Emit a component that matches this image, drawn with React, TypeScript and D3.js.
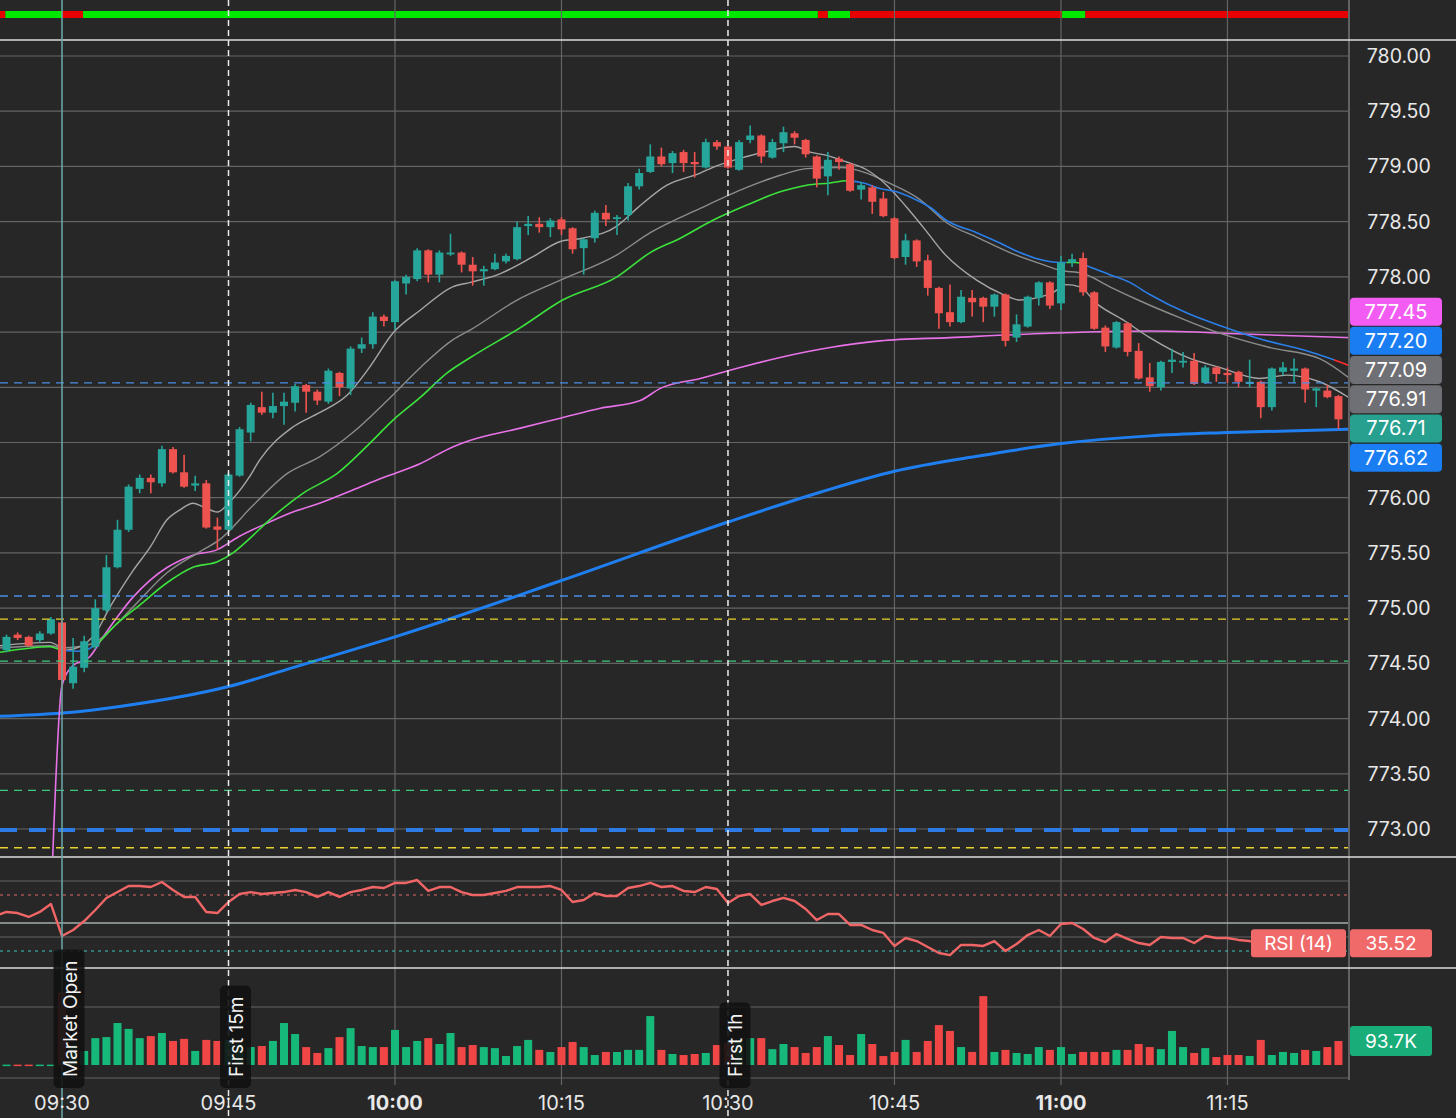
import React from "react";
import * as d3 from "d3";

// ---------- DATA ----------
const FIRST_CANDLE = "09:25";
const opens = [774.62,774.76,774.74,774.71,774.77,774.87,774.32,774.46,774.65,774.98,775.37,775.71,776.08,776.18,776.13,776.44,776.23,776.11,776.13,775.74,775.71,776.20,776.59,776.82,776.77,776.83,776.86,777.02,776.96,776.87,777.13,776.99,777.35,777.39,777.64,777.59,777.94,777.98,778.24,778.02,778.21,778.22,778.11,778.05,778.07,778.14,778.16,778.46,778.48,778.45,778.52,778.44,778.26,778.35,778.58,778.53,778.56,778.82,778.95,779.09,779.03,779.13,779.04,778.99,779.22,779.18,778.97,779.24,779.28,779.08,779.21,779.30,779.24,779.09,778.91,779.07,779.02,778.79,778.81,778.71,778.53,778.18,778.33,778.15,777.90,777.68,777.59,777.81,777.81,777.73,777.84,777.45,777.55,777.81,777.95,777.76,778.13,778.17,777.86,777.54,777.36,777.58,777.33,777.09,777.00,777.23,777.23,777.24,777.04,777.18,777.13,777.14,777.03,777.05,776.82,777.14,777.15,777.17,776.97,776.97,776.92];
const highs = [774.76,774.78,774.75,774.79,774.92,774.89,774.73,774.75,775.08,775.48,775.80,776.12,776.21,776.21,776.47,776.46,776.39,776.20,776.16,775.82,776.23,776.64,776.86,776.96,776.95,776.95,777.03,777.03,776.98,777.17,777.14,777.37,777.45,777.68,777.66,777.97,778.02,778.26,778.25,778.24,778.39,778.23,778.18,778.10,778.21,778.21,778.50,778.55,778.54,778.53,778.54,778.45,778.35,778.60,778.65,778.56,778.85,778.98,779.20,779.17,779.14,779.15,779.13,779.25,779.24,779.19,779.24,779.37,779.29,779.25,779.36,779.32,779.25,779.10,779.13,779.09,779.03,778.86,778.83,778.77,778.54,778.39,778.34,778.20,777.91,777.93,777.88,777.88,777.82,777.85,777.85,777.66,777.83,777.96,777.96,778.19,778.21,778.22,777.87,777.56,777.60,777.59,777.40,777.22,777.24,777.35,777.32,777.31,777.20,777.19,777.18,777.15,777.25,777.06,777.18,777.23,777.26,777.18,777.00,777.02,776.93];
const lows = [774.60,774.71,774.65,774.69,774.76,774.26,774.27,774.42,774.63,774.96,775.36,775.69,776.04,776.04,776.10,776.22,776.09,776.06,775.72,775.53,775.70,776.19,776.51,776.75,776.72,776.66,776.78,776.77,776.84,776.85,776.92,776.93,777.31,777.35,777.55,777.52,777.84,777.96,777.95,777.95,778.19,778.04,777.92,777.92,778.06,778.12,778.15,778.38,778.40,778.36,778.38,778.21,778.02,778.31,778.46,778.38,778.51,778.79,778.94,779.00,778.94,778.95,778.90,778.98,779.15,778.98,778.96,779.21,779.03,779.07,779.13,779.20,779.08,778.81,778.74,778.97,778.77,778.70,778.57,778.54,778.16,778.11,778.09,777.83,777.53,777.55,777.58,777.64,777.59,777.64,777.37,777.41,777.54,777.74,777.71,777.70,778.09,777.83,777.52,777.32,777.35,777.28,777.07,776.96,776.97,777.13,777.18,777.02,777.03,777.05,777.04,777.00,777.00,776.72,776.79,777.11,777.04,776.86,776.82,776.90,776.62];
const closes = [774.74,774.73,774.66,774.77,774.90,774.35,774.47,774.70,775.00,775.37,775.71,776.10,776.18,776.14,776.44,776.23,776.10,776.13,775.73,775.71,776.21,776.62,776.84,776.77,776.83,776.87,777.01,776.96,776.88,777.15,777.00,777.35,777.39,777.64,777.60,777.96,778.00,778.24,778.02,778.22,778.22,778.11,778.05,778.07,778.13,778.19,778.45,778.48,778.45,778.51,778.43,778.25,778.34,778.58,778.52,778.54,778.82,778.94,779.09,779.02,779.12,779.03,779.02,779.22,779.18,778.99,779.22,779.28,779.09,779.22,779.31,779.26,779.11,778.89,779.06,779.04,778.78,778.83,778.68,778.55,778.17,778.33,778.14,777.90,777.67,777.59,777.82,777.77,777.73,777.84,777.42,777.57,777.82,777.95,777.74,778.13,778.16,777.86,777.53,777.37,777.59,777.32,777.08,777.01,777.23,777.25,777.24,777.03,777.18,777.12,777.11,777.05,777.05,776.82,777.17,777.18,777.17,776.98,776.99,776.91,776.71];
const volumesK = [1.5,1.5,1.5,1.5,1.5,285,78,55,105,109,164,141,105,113,125,94,102,55,98,94,98,82,70,74,94,164,121,70,47,66,109,144,74,70,70,137,70,94,105,82,125,70,78,70,66,35,74,98,59,51,70,90,70,39,51,51,59,59,191,59,43,39,43,47,78,86,98,105,105,62,82,70,47,70,113,78,39,121,82,35,51,98,51,94,156,133,70,51,269,51,59,47,43,70,59,70,43,51,51,51,59,59,82,70,62,133,70,47,66,31,39,39,35,98,39,51,47,59,55,70,93.7];

const RSI_FIRST = "09:24";
const rsiValues = [55,57.9,57.1,54.3,57.9,63.6,40.7,45,51.4,59.3,67.9,72.1,76.4,76.4,75.7,79.3,73.6,68.6,68.6,57.9,57.1,65,70.7,72.1,70.7,71.4,72.1,73.6,72.1,68.6,72.1,68.6,72.1,73.6,75.7,75,78.6,78.6,80.7,72.9,75.7,75.7,72.1,70,70,71.4,72.9,75.7,75.7,75.7,76.4,73.6,65,66.4,71.4,69.3,69.3,75,76.4,78.6,75.7,76.4,72.9,72.1,75.7,74.3,64.3,69.3,70.7,62.9,65.7,67.9,65.7,60,52.1,56.4,56.4,48.6,48.6,45,42.9,33.6,39.3,37.1,32.9,28.6,27.1,34.3,34.3,33.6,37.1,30,35,41.4,45,40.7,49.3,50,45.7,39.3,36.4,42.1,38.6,35.7,34.3,40,39.3,39.3,35.7,40.7,39.3,39.3,37.9,37.1,35,39.3,40,40,37,38,37,35.5];

const timeTicks = ["09:30","09:45","10:00","10:15","10:30","10:45","11:00","11:15"];
const boldTicks = ["10:00","11:00"];
const priceTicks = [780,779.5,779,778.5,778,777.5,777,776.5,776,775.5,775,774.5,774,773.5,773];

// indicator lines: [minutes from 09:30, price]
const sma200: [number, number][] = [[-5.59,774.02],[0,774.05],[5.2,774.11],[15,774.29],[21.4,774.48],[30,774.74],[45,775.25],[60,775.78],[68.3,776.05],[75,776.24],[82.7,776.38],[90,776.49],[98,776.56],[105,776.59],[115.9,776.62]];
const vwap: [number, number][] = [[-1,772.3],[0,774.30],[1,774.48],[2.5,774.56],[3.7,774.74],[5.2,774.95],[6.4,775.10],[7.9,775.25],[9.5,775.37],[11.8,775.48],[14,775.53],[15.8,775.64],[18.7,775.78],[20.8,775.87],[23.2,775.95],[26.2,776.07],[28.9,776.18],[32.3,776.31],[35.2,776.46],[36.8,776.52],[41.3,776.63],[44.9,776.72],[48.5,776.81],[52.1,776.88],[53.9,776.99],[57.5,777.08],[61.1,777.18],[64.7,777.27],[69.2,777.36],[73.7,777.42],[80,777.45],[89,777.49],[98,777.51],[107,777.48],[115.9,777.45]];
const ema21: [number, number][] = [[-5.59,774.60],[-1.08,774.65],[0,774.62],[1.44,774.61],[2.79,774.65],[4.95,774.86],[7.03,775.03],[9.46,775.23],[11.8,775.37],[14,775.42],[15.4,775.50],[16.9,775.63],[18.7,775.80],[21.7,776.04],[24.8,776.22],[27.7,776.49],[29.8,776.70],[32.3,776.91],[34.7,777.13],[36.8,777.27],[41.3,777.54],[45.1,777.79],[50,778.00],[53,778.22],[55.7,778.35],[58.6,778.51],[61.7,778.65],[64.7,778.77],[67.1,778.83],[69.2,778.85],[70.7,778.87],[72.2,778.85],[73.7,778.80],[75.2,778.77],[76.7,778.71],[78.2,778.63],[79.7,778.51],[82.4,778.40],[84.2,778.32],[86.3,778.22],[88.4,778.15],[89.9,778.13],[91.4,778.13],[92.6,778.09],[94.4,778.02],[96.2,777.95],[98,777.84],[101.4,777.67],[104.3,777.56],[108.2,777.43],[111.8,777.34],[114,777.27],[115.9,777.20]];
const ema21Trend: [number, number, string][] = [[-6,0.3,"up"],[0.3,2.8,"flat"],[2.8,71,"up"],[71,90.5,"flat"],[90.5,92,"up"],[92,114.6,"flat"],[114.6,117,"down"]];
const emaFast: [number, number][] = [[-5.59,774.66],[-1.08,774.69],[0.45,774.62],[2.79,774.74],[4.32,775.01],[6.4,775.34],[7.93,775.55],[9.46,775.80],[10.63,775.89],[11.8,775.95],[12.7,775.92],[14,775.87],[15.1,775.96],[16.9,776.19],[17.8,776.34],[20.8,776.64],[23.2,776.77],[25.7,776.93],[27.7,777.18],[29.8,777.49],[32.3,777.70],[35.2,777.91],[36.8,777.95],[39.5,778.03],[42.4,778.18],[44.9,778.32],[46.9,778.35],[50,778.46],[51.8,778.62],[54.5,778.83],[57.5,778.94],[58.6,778.99],[61.7,779.09],[64.1,779.15],[66,779.18],[67.4,779.13],[68.9,779.10],[70.7,779.04],[72.5,778.97],[74.3,778.83],[76.1,778.63],[77.9,778.41],[79.4,778.22],[82.4,777.97],[84.8,777.84],[86.3,777.79],[87.8,777.81],[89.3,777.86],[90.5,777.93],[91.7,777.91],[93.2,777.76],[95.6,777.61],[98,777.45],[101.4,777.27],[104.3,777.18],[107.9,777.08],[110.4,777.11],[113.3,777.05],[115.9,776.91]];
const emaSlow: [number, number][] = [[-5.59,774.64],[-1.08,774.66],[0,774.64],[2.79,774.68],[4.32,774.80],[6.4,775.01],[9.46,775.32],[12.4,775.51],[14.2,775.62],[17.2,775.93],[20.3,776.22],[23.2,776.37],[26.2,776.59],[29.3,776.88],[32.3,777.18],[35.2,777.43],[36.8,777.52],[41,777.79],[44.9,777.97],[50,778.20],[53,778.40],[57.5,778.62],[61.7,778.81],[64.7,778.92],[67.1,778.98],[70.1,778.99],[72.5,778.94],[74.3,778.86],[77.3,778.70],[79.7,778.49],[82.4,778.36],[85.4,778.22],[88.4,778.11],[89.9,778.06],[92,778.03],[94.4,777.91],[97.4,777.77],[100.7,777.63],[104.3,777.49],[108.8,777.36],[113.3,777.26],[115.9,777.09]];

const trendBar: [number, number, string][] = [[-5.6,-5.1,"down"],[-5.1,0,"up"],[0,1.9,"down"],[1.9,68.1,"up"],[68.1,69,"down"],[69,71,"up"],[71,90.1,"down"],[90.1,92.2,"up"],[92.2,116,"down"]];

const levelPrices = [777.04, 775.11, 774.90, 774.52, 773.35, 772.99, 772.83];
const levelKinds = ["blue", "blue", "yellow", "green", "green", "blueThick", "yellow"];

const eventTimes = ["09:30", "09:45", "10:30"];
const eventLabels = ["Market Open", "First 15m", "First 1h"];
const eventKinds = ["open", "dash", "dash"];

const badgeValues = [777.45, 777.20, 777.09, 776.91, 776.71, 776.62];
const badgeColors = ["#f25cf2", "#1a7ef2", "#6f7075", "#6f7075", "#27a090", "#1a7ef2"];

const rsiLabel = "RSI (14)";
const rsiLast = 35.52;
const volLabel = "93.7K";

// ---------- STYLE ----------
const W = 1456, H = 1118;
const PR = 1348;
const BG = "#272727";
const GRID = "#646464";
const UP = "#26a69a", DOWN = "#ef5350";
const VUP = "#17b97b", VDOWN = "#f04646";
const FONT = "Inter, 'Noto Sans', sans-serif";
const levelStyle: Record<string, { c: string; w: number; d: string }> = {
  blue: { c: "#4b8fe6", w: 1.3, d: "8,6" },
  yellow: { c: "#e8d22e", w: 1.3, d: "8,6" },
  green: { c: "#3ccb7c", w: 1.3, d: "8,6" },
  blueThick: { c: "#2f7be6", w: 4, d: "17,12" },
};
const trendColor: Record<string, string> = { up: "#3ce23c", flat: "#2a7fe8", down: "#ff2a2a" };

const parse = d3.timeParse("%H:%M");
const base = parse("09:30")!;
const m2d = (m: number) => new Date(base.getTime() + m * 60000);
const minOf = (s: string) => (parse(s)!.getTime() - base.getTime()) / 60000;

function measure(text: string, font: string) {
  const c = document.createElement("canvas").getContext("2d")!;
  c.font = font;
  return c.measureText(text).width;
}

export default function App() {
  React.useEffect(() => {
    document.body.style.margin = "0";
    document.body.style.background = BG;
  }, []);

  const x = d3.scaleTime().domain([m2d(-5.586), m2d(115.86)]).range([0, PR]);
  const y = d3.scaleLinear().domain([773, 780]).range([829, 56]);
  const yR = d3.scaleLinear().domain([30, 70]).range([951, 895]);
  const yV = d3.scaleLinear().domain([0, 100]).range([1065, 1039.4]);
  const xm = (m: number) => x(m2d(m));

  const c0 = minOf(FIRST_CANDLE);
  const candles = opens.map((o, i) => ({ m: c0 + i, o, h: highs[i], l: lows[i], c: closes[i], v: volumesK[i] }));
  const r0 = minOf(RSI_FIRST);

  const line = d3.line<[number, number]>().x(d => xm(d[0])).y(d => y(d[1])).curve(d3.curveMonotoneX);
  const rsiLine = d3.line<number>().x((_, i) => xm(r0 + i)).y(d => yR(d));

  // badges stacking around the mean of their true positions
  const bys = badgeValues.map(v => y(v));
  const mean = d3.mean(bys)! - 3;
  const order = badgeValues.map((v, i) => i).sort((a, b) => badgeValues[b] - badgeValues[a]);
  const placed: number[] = [];
  order.forEach((idx, k) => { placed[idx] = mean + (k - (order.length - 1) / 2) * 29.2; });
  const bandTop = d3.min(placed)! - 14, bandBot = d3.max(placed)! + 14;
  const visibleTicks = priceTicks.filter(p => y(p) + 8 < bandTop || y(p) - 8 > bandBot);

  const evFont = `19px ${FONT}`;
  const cw = 8;

  return (
    <svg width={W} height={H} style={{ position: "fixed", left: 0, top: 0, display: "block" }} fontFamily={FONT}>
      <defs>
        <clipPath id="mainClip"><rect x={0} y={41} width={PR} height={815} /></clipPath>
        <clipPath id="rsiClip"><rect x={0} y={858} width={PR} height={110} /></clipPath>
        {ema21Trend.map((s, i) => (
          <clipPath id={`tc${i}`} key={i}><rect x={xm(s[0])} y={0} width={Math.max(0, xm(s[1]) - xm(s[0]))} height={H} /></clipPath>
        ))}
      </defs>
      <rect x={0} y={0} width={W} height={H} fill={BG} />

      {/* trend bar */}
      {trendBar.map((s, i) => (
        <rect key={i} x={Math.max(0, xm(s[0]))} y={11} width={Math.min(PR, xm(s[1])) - Math.max(0, xm(s[0]))} height={7}
          fill={s[2] === "up" ? "#00e800" : "#e60000"} />
      ))}

      {/* price grid */}
      {priceTicks.map(p => <line key={p} x1={0} x2={PR} y1={y(p)} y2={y(p)} stroke={GRID} strokeWidth={1.2} />)}
      {/* time grid */}
      {timeTicks.filter(t => !eventTimes.includes(t)).map(t => (
        <line key={t} x1={xm(minOf(t))} x2={xm(minOf(t))} y1={0} y2={1085} stroke={GRID} strokeWidth={1.2} />
      ))}

      {/* pane separators */}
      <line x1={PR + 1} x2={PR + 1} y1={0} y2={1080} stroke="#8a8a8a" strokeWidth={1.2} />
      <line x1={0} x2={W} y1={40} y2={40} stroke="#dcdcdc" strokeWidth={1.6} />
      <line x1={0} x2={W} y1={857} y2={857} stroke="#dcdcdc" strokeWidth={1.6} />
      <line x1={0} x2={W} y1={968} y2={968} stroke="#dcdcdc" strokeWidth={1.6} />

      {/* RSI pane */}
      {[80, 40].map(v => <line key={v} x1={0} x2={PR} y1={yR(v)} y2={yR(v)} stroke={GRID} strokeWidth={1.2} />)}
      <line x1={0} x2={PR} y1={yR(50)} y2={yR(50)} stroke="#a3aeae" strokeWidth={1.4} />
      <line x1={0} x2={PR} y1={yR(70)} y2={yR(70)} stroke="#e46a6a" strokeWidth={1.2} strokeDasharray="3,4" />
      <line x1={0} x2={PR} y1={yR(30)} y2={yR(30)} stroke="#3fc7c0" strokeWidth={1.2} strokeDasharray="3,4" />
      <g clipPath="url(#rsiClip)">
        <path d={rsiLine(rsiValues)!} fill="none" stroke="#f06666" strokeWidth={2.4} strokeLinejoin="round" />
      </g>

      {/* volume pane */}
      <line x1={0} x2={PR} y1={1007} y2={1007} stroke={GRID} strokeWidth={1.2} />
      <line x1={0} x2={PR + 1} y1={1078} y2={1078} stroke={GRID} strokeWidth={1.2} />
      {candles.map((d, i) => (
        <rect key={i} x={xm(d.m) - cw / 2} y={yV(d.v)} width={cw} height={Math.max(1.5, yV(0) - yV(d.v))}
          fill={d.c >= d.o ? VUP : VDOWN} />
      ))}

      {/* main pane */}
      <g clipPath="url(#mainClip)">
        <path d={line(sma200)!} fill="none" stroke="#1f7ff0" strokeWidth={3} />
        <path d={line(vwap)!} fill="none" stroke="#e872e8" strokeWidth={1.6} />
        <path d={line(emaSlow)!} fill="none" stroke="#8c8c8c" strokeWidth={1.4} />
        <path d={line(emaFast)!} fill="none" stroke="#a6a6a6" strokeWidth={1.4} />
        {ema21Trend.map((s, i) => (
          <path key={i} d={line(ema21)!} fill="none" stroke={trendColor[s[2]]} strokeWidth={1.6} clipPath={`url(#tc${i})`} />
        ))}
        {candles.map((d, i) => {
          const col = d.c >= d.o ? UP : DOWN;
          const top = y(Math.max(d.o, d.c));
          const hgt = Math.max(1.8, Math.abs(y(d.o) - y(d.c)));
          return (
            <g key={i}>
              <line x1={xm(d.m)} x2={xm(d.m)} y1={y(d.h)} y2={y(d.l)} stroke={col} strokeWidth={1.6} />
              <rect x={xm(d.m) - cw / 2} y={top} width={cw} height={hgt} fill={col} />
            </g>
          );
        })}
        {levelPrices.map((p, i) => {
          const s = levelStyle[levelKinds[i]];
          return <line key={i} x1={0} x2={PR} y1={y(p)} y2={y(p)} stroke={s.c} strokeWidth={s.w} strokeDasharray={s.d} />;
        })}
      </g>

      {/* event lines */}
      {eventTimes.map((t, i) => {
        const ex = xm(minOf(t));
        return eventKinds[i] === "open"
          ? <line key={t} x1={ex} x2={ex} y1={0} y2={H} stroke="#6aa3a3" strokeWidth={1.6} />
          : <line key={t} x1={ex} x2={ex} y1={0} y2={H} stroke="#ececec" strokeWidth={1.5} strokeDasharray="6,4" />;
      })}

      {/* event labels (box sits just right of its line) */}
      {eventLabels.map((lab, i) => {
        const ex = xm(minOf(eventTimes[i]));
        const tw = measure(lab, evFont);
        const h = tw + 22;
        const bottom = 1088;
        const cx = ex + 7;
        return (
          <g key={lab}>
            <rect x={cx - 15.5} y={bottom - h} width={31} height={h} rx={5} fill="#121212" opacity={0.9} />
            <text transform={`translate(${cx + 7.5},${bottom - 11}) rotate(-90)`} fontSize={19} fill="#f2f2f2">{lab}</text>
          </g>
        );
      })}

      {/* time axis labels */}
      {timeTicks.map(t => (
        <text key={t} x={xm(minOf(t))} y={1110} textAnchor="middle" fontSize={20}
          fontWeight={boldTicks.includes(t) ? 700 : 400} fill="#e8e8e8">{t}</text>
      ))}

      {/* price axis labels */}
      {visibleTicks.map(p => (
        <text key={p} x={1399} y={y(p) + 7} textAnchor="middle" fontSize={19.5} fill="#e8e8e8">{p.toFixed(2)}</text>
      ))}

      {/* price badges */}
      {badgeValues.map((v, i) => (
        <g key={i}>
          <rect x={1350} y={placed[i] - 14} width={92} height={28} rx={4} fill={badgeColors[i]} />
          <text x={1396} y={placed[i] + 7} textAnchor="middle" fontSize={20} fill="#ffffff">{v.toFixed(2)}</text>
        </g>
      ))}

      {/* RSI badges */}
      <rect x={1251} y={yR(rsiLast) - 14} width={95} height={28} rx={3} fill="#f06a6a" />
      <text x={1298.5} y={yR(rsiLast) + 7} textAnchor="middle" fontSize={19} fill="#ffffff">{rsiLabel}</text>
      <rect x={1350} y={yR(rsiLast) - 14} width={82} height={28} rx={3} fill="#f06a6a" />
      <text x={1391} y={yR(rsiLast) + 7} textAnchor="middle" fontSize={19} fill="#ffffff">{rsiLast.toFixed(2)}</text>

      {/* volume badge */}
      <rect x={1350} y={yV(volumesK[volumesK.length - 1]) - 15} width={82} height={30} rx={3} fill="#19ad79" />
      <text x={1391} y={yV(volumesK[volumesK.length - 1]) + 7} textAnchor="middle" fontSize={19} fill="#ffffff">{volLabel}</text>
    </svg>
  );
}
